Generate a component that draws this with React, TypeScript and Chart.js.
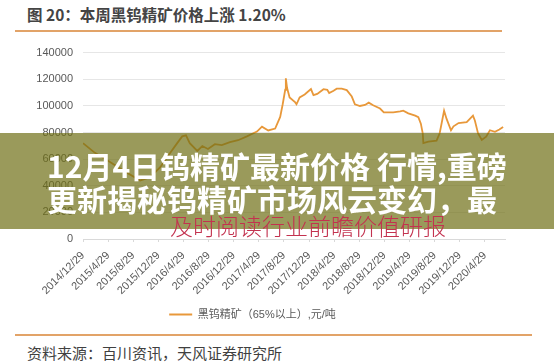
import React, { useEffect, useRef } from "react";
import { Chart, registerables } from "chart.js";

Chart.register(...registerables);

// x = months elapsed since 2014/12/29
const tickMonths = [0, 4, 8, 12, 16, 20, 24, 28, 32, 36, 40, 44, 48, 52, 56, 60, 64];
const tickLabels = [
  "2014/12/29", "2015/4/29", "2015/8/29", "2015/12/29", "2016/4/29", "2016/8/29",
  "2016/12/29", "2017/4/29", "2017/8/29", "2017/12/29", "2018/4/29", "2018/8/29",
  "2018/12/29", "2019/4/29", "2019/8/29", "2019/12/29", "2020/4/29",
];
const seriesMonths = [
  0, 1.9, 4.3, 6.7, 9.1, 10.7, 12.3, 13.9, 15.0,
  15.8, 16.4, 17.0, 18.2, 19.0, 19.9, 21.0, 22.1, 23.4, 24.7, 26.1, 27.7, 28.5, 29.5, 30.6,
  31.4, 31.8, 32.2, 32.3, 32.5, 32.9, 33.8, 34.0, 34.5, 35.3, 36.3, 36.7, 37.3, 38.3, 38.9,
  39.2, 39.9, 40.4, 41.2, 42.0, 42.8, 43.3, 44.1, 44.9, 45.5, 46.2, 47.3, 47.9, 49.4, 50.5,
  51.0, 51.8, 52.9, 53.4, 53.8, 54.1, 54.2, 55.0, 56.3, 56.8, 57.5, 57.9, 58.6, 59.0, 59.8,
  61.1, 62.1, 62.4, 62.9, 63.5, 64.2, 64.8, 65.6, 66.3, 66.9,
];
const priceValues = [
  72000, 64700, 57800, 50600, 44000, 46400, 53900, 64700, 72000,
  77100, 77800, 72000, 66100, 69800, 67600, 71200, 70500, 72700, 74200, 77100, 80700, 84400, 81500, 83000,
  91700, 101200, 112100, 120700, 113400, 106300, 102600, 101200, 106300, 108500, 112600, 108000, 109000, 112500, 112100,
  109700, 111400, 112900, 112900, 111800, 107000, 101200, 99900, 100700, 102400, 100400, 98000, 95100, 95100, 95800,
  96400, 94400, 92600, 91500, 86600, 79400, 72000, 73200, 73900, 79400, 96300, 90200, 81700, 84600, 87100,
  87800, 92600, 89000, 79400, 74400, 76900, 81700, 80500, 82200, 84200,
];
const seriesName = "黑钨精矿（65%以上）,元/吨";
const yTicks = [0, 20000, 40000, 60000, 80000, 100000, 120000, 140000];

const LINE = "#e8983a";
const FONT = "'Liberation Sans', 'Noto Sans CJK SC', sans-serif";

function LineChart() {
  const ref = useRef<HTMLCanvasElement | null>(null);
  useEffect(() => {
    if (!ref.current) return;
    const chart = new Chart(ref.current, {
      type: "line",
      data: {
        datasets: [
          {
            label: seriesName,
            data: seriesMonths.map((m, i) => ({ x: m, y: priceValues[i] })),
            borderColor: LINE,
            backgroundColor: LINE,
            borderWidth: 1.8,
            pointRadius: 0,
            tension: 0,
          },
        ],
      },
      options: {
        animation: false,
        responsive: false,
        layout: { padding: { top: 11, right: 49, left: 0, bottom: 0 } },
        scales: {
          x: {
            type: "linear",
            min: 0,
            max: 67.2,
            afterBuildTicks: (s: any) => {
              s.ticks = tickMonths.map((v) => ({ value: v }));
            },
            afterFit: (s: any) => {
              s.height = 60;
            },
            grid: {
              drawOnChartArea: false,
              drawTicks: true,
              tickLength: 3,
              color: "#d9d9d9",
            },
            border: { display: true, color: "#d9d9d9" },
            ticks: {
              autoSkip: false,
              minRotation: 45,
              maxRotation: 45,
              padding: 7,
              color: "#595959",
              font: { size: 11, family: FONT },
              callback: (v: any) => {
                const i = tickMonths.indexOf(Number(v));
                return i >= 0 ? tickLabels[i] : "";
              },
            },
          },
          y: {
            min: 0,
            max: 140000,
            afterBuildTicks: (s: any) => {
              s.ticks = yTicks.map((v) => ({ value: v }));
            },
            afterFit: (s: any) => {
              s.width = 83;
            },
            grid: { color: "#e6e6e6", drawTicks: false },
            border: { display: false },
            ticks: {
              padding: 10,
              color: "#595959",
              font: { size: 11, family: FONT },
              callback: (v: any) => String(v),
            },
          },
        },
        plugins: {
          legend: {
            position: "bottom",
            labels: {
              boxWidth: 23,
              boxHeight: 2,
              padding: 10,
              color: "#595959",
              font: { size: 11, family: FONT },
              generateLabels: (c: any) =>
                c.data.datasets.map((d: any, i: number) => ({
                  text: d.label,
                  fillStyle: LINE,
                  strokeStyle: LINE,
                  lineWidth: 0,
                  datasetIndex: i,
                  fontColor: "#595959",
                })),
            },
          },
          tooltip: { enabled: false },
        },
      },
    });
    return () => chart.destroy();
  }, []);
  return <canvas ref={ref} width={554} height={294} style={{ display: "block" }} />;
}

export default function App() {
  return (
    <div
      style={{
        position: "fixed",
        left: 0,
        top: 0,
        width: 554,
        height: 362,
        background: "#ffffff",
        overflow: "hidden",
        fontFamily: "'Noto Sans CJK SC', 'Liberation Sans', sans-serif",
      }}
    >
      <div
        style={{
          position: "absolute",
          left: 27,
          top: 4,
          fontSize: 15.5,
          lineHeight: "20px",
          fontWeight: 700,
          color: "#444444",
          whiteSpace: "nowrap",
        }}
      >
        图 20：本周黑钨精矿价格上涨 1.20%
      </div>
      <div style={{ position: "absolute", left: 15, top: 30, width: 487, height: 2, background: "#e2a368" }} />
      <div style={{ position: "absolute", left: 0, top: 36, width: 554, height: 294 }}>
        <LineChart />
      </div>
      <div style={{ position: "absolute", left: 15, top: 334, width: 517, height: 2, background: "#e2a368" }} />
      <div
        style={{
          position: "absolute",
          left: 27,
          top: 343,
          fontSize: 15,
          lineHeight: "20px",
          color: "#404040",
          whiteSpace: "nowrap",
        }}
      >
        资料来源：百川资讯，天风证券研究所
      </div>
      <div
        style={{
          position: "absolute",
          left: 0,
          top: 133,
          width: 554,
          height: 96,
          background: "rgba(111,111,22,0.7)",
        }}
      />
      <div
        style={{
          position: "absolute",
          left: 47,
          top: 150,
          fontSize: 30,
          lineHeight: "30px",
          fontWeight: 700,
          color: "#ffffff",
          whiteSpace: "nowrap",
        }}
      >
        12月4日钨精矿最新价格 行情,重磅
      </div>
      <div
        style={{
          position: "absolute",
          left: 47,
          top: 183,
          fontSize: 30,
          lineHeight: "30px",
          fontWeight: 700,
          color: "#ffffff",
          whiteSpace: "nowrap",
        }}
      >
        更新揭秘钨精矿市场风云变幻，最
      </div>
      <div
        style={{
          position: "absolute",
          left: 170,
          top: 212,
          fontSize: 23,
          lineHeight: "26px",
          fontWeight: 300,
          color: "#c3324f",
          whiteSpace: "nowrap",
        }}
      >
        及时阅读行业前瞻价值研报
      </div>
    </div>
  );
}
